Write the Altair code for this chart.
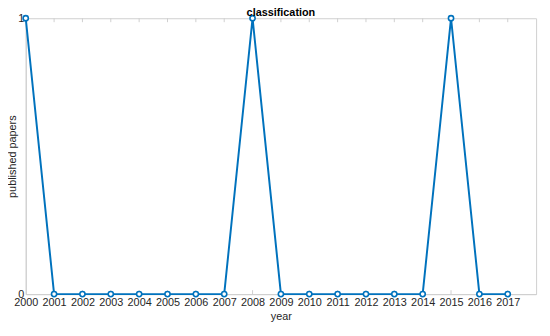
import altair as alt
import pandas as pd

years = list(range(2000, 2018))
papers = [1, 0, 0, 0, 0, 0, 0, 0, 1, 0, 0, 0, 0, 0, 0, 1, 0, 0]

df = pd.DataFrame({"year": years, "papers": papers})

BLUE = "#0072BD"
AX = "#cfcfcf"
FONT = "Liberation Sans"

xscale = alt.Scale(domain=[2000, 2018], nice=False, zero=False)
yscale = alt.Scale(domain=[0, 1], nice=False)

X = alt.X("year:Q", scale=xscale, title="year",
          axis=alt.Axis(values=years, format="d", ticks=False, labelFlush=False,
                        labelOverlap=False,
                        domainColor=AX, labelColor="#262626", labelFontSize=11,
                        labelFont=FONT, labelPadding=3, titleFont=FONT,
                        titleFontSize=11, titleFontWeight="normal",
                        titleColor="#262626", titlePadding=3, grid=False))
Y = alt.Y("papers:Q", scale=yscale, title="published papers",
          axis=alt.Axis(values=[0, 1], format="d", ticks=False, domainColor=AX,
                        labelColor="#262626", labelFontSize=11, labelFont=FONT,
                        labelPadding=2, labelOverlap=False, labelFlush=False,
                        titleFont=FONT, titleFontSize=11,
                        titleFontWeight="normal", titleColor="#262626",
                        titleX=-8, titleBaseline="bottom", grid=False))

base = alt.Chart(df)

line = base.mark_line(color=BLUE, strokeWidth=2).encode(x=X, y=Y)

points = base.mark_point(shape="circle", filled=True, fill="white", stroke=BLUE,
                         strokeWidth=1.6, size=28, opacity=1).encode(x=X, y=Y)

tick_df = pd.DataFrame({"year": years[1:]})
top_ticks = alt.Chart(tick_df).mark_rule(color=AX, strokeWidth=1).encode(
    x=X, y=alt.value(0), y2=alt.value(4),
)
bot_ticks = alt.Chart(tick_df).mark_rule(color=AX, strokeWidth=1).encode(
    x=X, y=alt.value(280), y2=alt.value(276),
)

chart = alt.layer(top_ticks, bot_ticks, line, points).properties(
    width=518, height=280,
    title=alt.TitleParams("classification", fontSize=11, fontWeight="bold",
                          font=FONT, color="#000000", offset=-15, anchor="middle",
                          baseline="alphabetic"),
    autosize=alt.AutoSizeParams(type="none"),
    padding={"left": 18, "top": 8, "right": 6, "bottom": 32},
).configure_view(stroke=AX, strokeWidth=1)

chart.save("out.html", embed_options={"renderer": "svg", "actions": False})
